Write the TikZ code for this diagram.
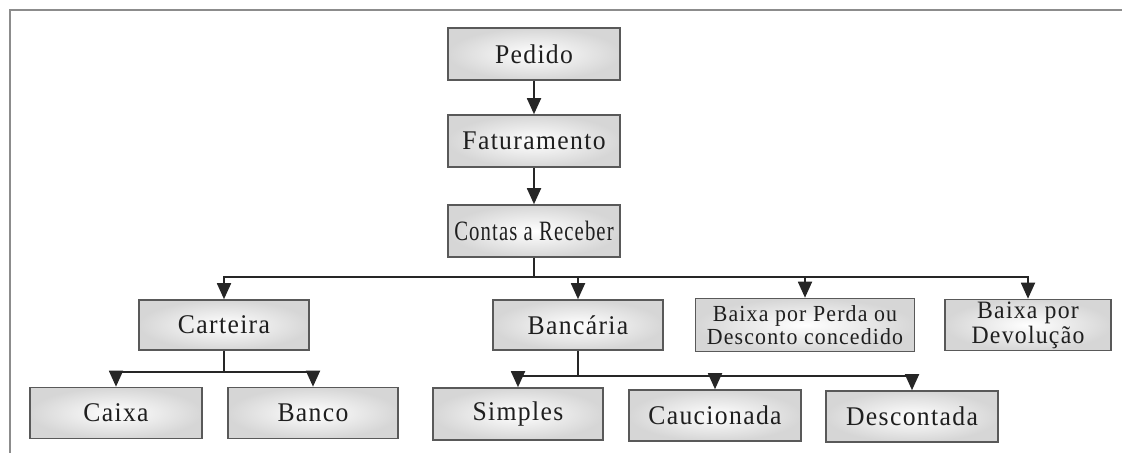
\documentclass[tikz,border=0pt]{standalone}
\usepackage{fontspec}
\setmainfont{Liberation Serif}[LetterSpace=5, FakeStretch=0.95]
\usetikzlibrary{arrows.meta}
\begin{document}
\begin{tikzpicture}[x=1pt,y=-1pt,
  box/.style={draw=black!65, line width=1.6pt, shading=radial, inner color=white, outer color=black!16,
    minimum height=52pt, minimum width=172pt, inner sep=0pt, align=center,
    font=\fontsize{27}{29}\selectfont, text=black!88},
  twoline/.style={font=\fontsize{23}{23.5}\selectfont},
  link/.style={draw=black!85, line width=1.8pt},
  arr/.style={link, -{Triangle[width=14pt,length=16pt]}},
  frame/.style={draw=black!45, line width=2pt}]
\useasboundingbox (0,0) rectangle (1122,453);
% frame
\coordinate (fb) at (1122,10);
\coordinate (fc) at (10,453);
\draw[frame] (fb) -- (10,10) -- (fc);

% nodes
\node[box] (ped) at (534,54) {Pedido};
\node[box] (fat) at (534,141) {Faturamento};
\node[box] (cr)  at (534,231) {\scalebox{0.78}[1]{\fontsize{28}{29}\selectfont Contas a Receber}};

\node[box, minimum width=170pt, minimum height=50pt] (cart) at (224,325) {Carteira};
\node[box, minimum width=170pt, minimum height=50pt] (banc) at (578,325) {Bancária};
\node[box, twoline, minimum width=219pt, minimum height=53pt] (perda) at (805,325) {Baixa por Perda ou\\Desconto concedido};
\node[box, minimum width=166pt, minimum height=51pt, font=\fontsize{25}{25}\selectfont] (dev) at (1028,325) {Baixa por\\Devolução};

\node[box, minimum width=172pt, minimum height=51pt] (caixa) at (116,413) {Caixa};
\node[box, minimum width=170pt, minimum height=51pt] (banco) at (313,413) {Banco};

\node[box, minimum width=170pt, minimum height=52pt] (simp) at (518,414) {Simples};
\node[box, minimum width=172pt, minimum height=51pt] (cauc) at (715,415.5) {Caucionada};
\node[box, minimum width=172pt, minimum height=51pt] (desc) at (912,416.5) {Descontada};

% connectors
\draw[arr] (ped) -- (fat);
\draw[arr] (fat) -- (cr);

\coordinate (bus) at (0,277);
\draw[arr] (cr.south) |- (cart.north |- bus) -- (cart.north);
\draw[arr] (cr.south) |- (banc.north |- bus) -- (banc.north);
\draw[arr] (cr.south) |- (perda.north |- bus) -- (perda.north);
\draw[arr] (cr.south) |- (dev.north |- bus) -- (dev.north);

\coordinate (busc) at (0,372);
\draw[arr] (cart.south) |- (caixa.north |- busc) -- (caixa.north);
\draw[arr] (cart.south) |- (banco.north |- busc) -- (banco.north);

\coordinate (busb) at (0,376);
\draw[arr] (banc.south) |- (simp.north |- busb) -- (simp.north);
\draw[arr] (banc.south) |- (cauc.north |- busb) -- (cauc.north);
\draw[arr] (banc.south) |- (desc.north |- busb) -- (desc.north);
\end{tikzpicture}
\end{document}
